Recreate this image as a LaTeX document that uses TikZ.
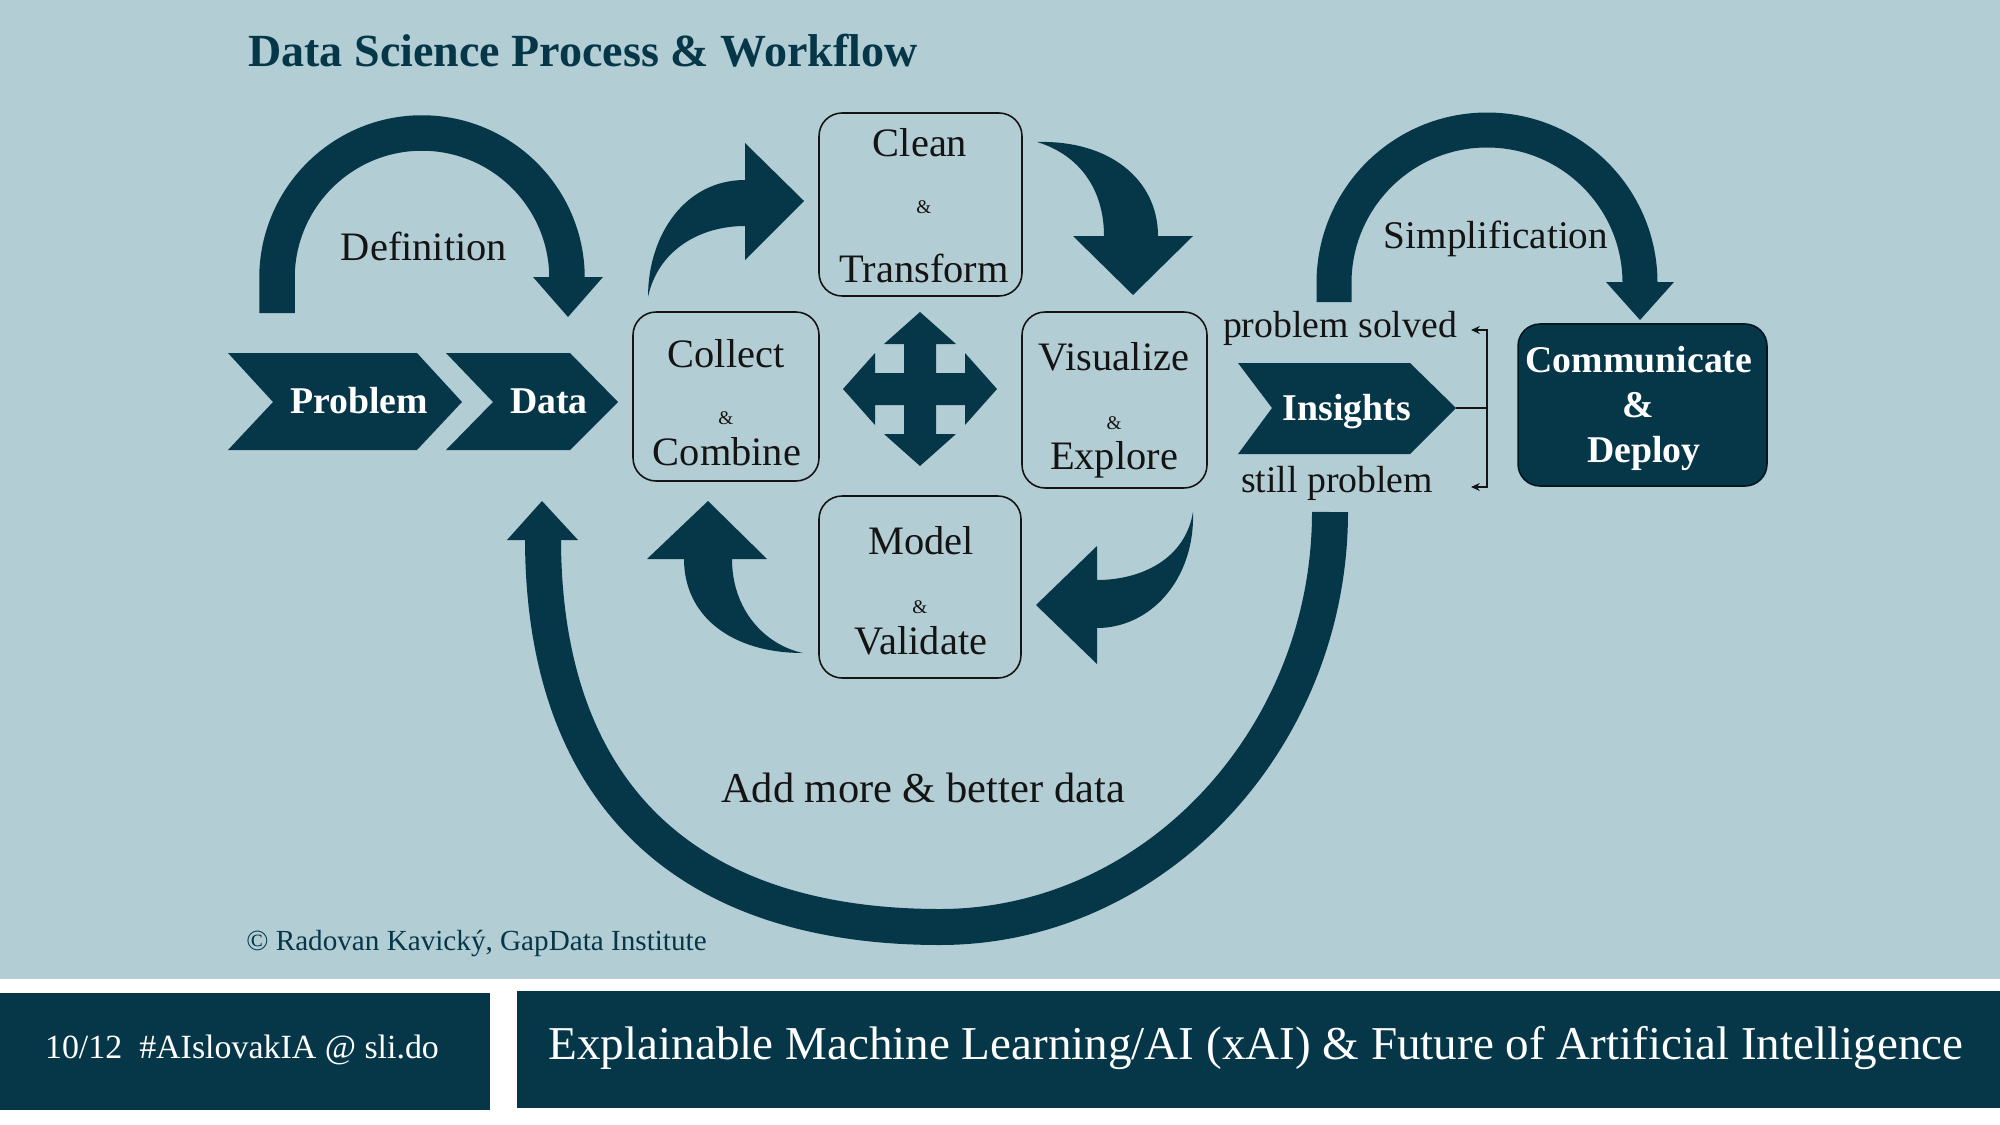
\documentclass[tikz,border=0pt]{standalone}
\usepackage{fontspec}
\setmainfont{Liberation Serif}
\usetikzlibrary{arrows.meta}
\definecolor{bgc}{HTML}{B3CDD4}
\definecolor{dk}{HTML}{053749}
\definecolor{txt}{HTML}{141414}
\newcommand\szT{\fontsize{26.2}{29}\selectfont}
\newcommand\szL{\fontsize{23}{26}\selectfont}
\newcommand\szM{\fontsize{21.5}{24}\selectfont}
\newcommand\szS{\fontsize{11}{13}\selectfont}
\newcommand\szW{\fontsize{21.5}{24}\selectfont}
\newcommand\szC{\fontsize{16.6}{19}\selectfont}
\newcommand\szFa{\fontsize{19.3}{22}\selectfont}
\newcommand\szFb{\fontsize{26.8}{30}\selectfont}
\tikzset{
  box/.style={draw=txt, line width=0.9pt, rounded corners=0.46cm, inner sep=0pt, outer sep=0pt},
  lbl/.style={anchor=base, inner sep=0pt, text=txt, font=\szL},
  mlbl/.style={anchor=base, inner sep=0pt, text=txt, font=\szM},
  amp/.style={anchor=base, inner sep=0pt, text=txt, font=\szS},
  wlbl/.style={anchor=base, inner sep=0pt, text=white, font=\bfseries\szW},
  thickarc/.style={draw=dk, line width=0.71cm},
  bracket/.style={draw=txt, line width=0.7pt},
  tipb/.style={-{Stealth[length=5pt,width=4.5pt]}}
}
\begin{document}
\begin{tikzpicture}[x=0.02cm,y=-0.02cm]
\useasboundingbox (0,0) rectangle (2000,1125);
\fill[white] (0,0) rectangle (2000,1125);
\fill[bgc] (0,0) rectangle (2000,979);

% title
\node[anchor=base west, inner sep=0pt, text=dk, font=\bfseries\szT] (title) at (248,67) {Data Science Process \& Workflow};

% Definition arc arrow
\draw[thickarc] (277,313) -- (277,278) .. controls (277,198) and (342,133) .. (422,133) .. controls (502,133) and (567,198) .. (567,278) -- (567,280);
\fill[dk] (533,277) -- (603,277) -- (568,317) -- cycle;
\node[lbl] (tdef) at (424,260) {Definition};

% chevrons
\fill[dk] (228,353) -- (417,353) -- (462,402) -- (417,450) -- (228,450) -- (273,402) -- cycle;
\fill[dk] (446,353) -- (570,353) -- (618,402) -- (570,450) -- (446,450) -- (493,402) -- cycle;
\node[wlbl] (tprob) at (359,413) {Problem};
\node[wlbl] (tdata) at (549,413) {Data};

% boxes
\node[box, minimum width=4.06cm, minimum height=3.66cm] (clean) at (920.5,204.5) {};
\node[box, minimum width=3.72cm, minimum height=3.38cm] (collect) at (726,396.5) {};
\node[box, minimum width=3.70cm, minimum height=3.52cm] (visual) at (1114.5,400) {};
\node[box, minimum width=4.04cm, minimum height=3.64cm] (model) at (920,587) {};

\node[lbl] (t1a) at (920,157) {Clean};
\node[amp] (t1b) at (924,214) {\&};
\node[lbl] (t1c) at (924,282) {Transform};

\node[lbl] (t2a) at (726,367) {Collect};
\node[amp] (t2b) at (726,424) {\&};
\node[lbl] (t2c) at (727,465) {Combine};

\node[lbl] (t3a) at (1114,370) {Visualize};
\node[amp] (t3b) at (1114,429) {\&};
\node[lbl] (t3c) at (1114,469) {Explore};

\node[lbl] (t4a) at (921,554) {Model};
\node[amp] (t4b) at (920,613) {\&};
\node[lbl] (t4c) at (921,654) {Validate};

% four-way arrow
\fill[dk] (920,312) -- (956,344) -- (936,344) -- (936,373) -- (965,373) -- (965,353) -- (997,389) -- (965,425) -- (965,405) -- (936,405) -- (936,434) -- (956,434) -- (920,466) -- (884,434) -- (904,434) -- (904,405) -- (875,405) -- (875,425) -- (843,389) -- (875,353) -- (875,373) -- (904,373) -- (904,344) -- (884,344) -- cycle;

% curved block arrows
\fill[dk] (648,297) .. controls (648,235) and (685,180) .. (745,180) -- (745,143) -- (804,201) -- (745,260) -- (745,226) .. controls (700,226) and (658,250) .. (648,297) -- cycle;
\fill[dk] (1037,142) .. controls (1110,140) and (1158,180) .. (1158,236) -- (1193,236) -- (1133,295) -- (1073,236) -- (1104,236) .. controls (1104,190) and (1080,155) .. (1037,142) -- cycle;
\fill[dk] (1193,512) .. controls (1195,580) and (1150,628) .. (1097,628) -- (1097,664) -- (1036,605) -- (1097,546) -- (1097,580) .. controls (1140,580) and (1185,560) .. (1193,512) -- cycle;
\fill[dk] (684,559) .. controls (684,615) and (730,653) .. (803,653) .. controls (765,645) and (732,610) .. (732,559) -- (767,559) -- (708,501) -- (647,559) -- cycle;

% big U arrow
\draw[dk, line width=0.72cm] (1330,512) .. controls (1330,739) and (1154,927) .. (940,927) .. controls (682,927) and (543,790) .. (543,538);
\fill[dk] (507,540) -- (578,540) -- (542,501) -- cycle;
\node[lbl, font=\fontsize{24.2}{27}\selectfont] (tadd) at (923,802) {Add more \& better data};

% insights
\fill[dk] (1238,363) -- (1410,363) -- (1456,408) -- (1410,454) -- (1238,454) -- (1272,408) -- cycle;
\node[wlbl] (tins) at (1347,420) {Insights};
\coordinate (instip) at (1456,408);
\coordinate (bj) at (1487,408);
\coordinate (bt) at (1487,330);
\coordinate (bb) at (1487,487);
\node[mlbl] (solved) at (1340,337) {problem solved};
\node[mlbl] (still) at (1337,492) {still problem};
\draw[bracket] (instip) -- (bj);
\draw[bracket,tipb] (bj) -- (bt) -- (1471,330);
\draw[bracket,tipb] (bj) -- (bb) -- (1471,487);

% Simplification arc
\draw[thickarc, line width=0.70cm] (1334,302) -- (1334,283) .. controls (1334,198.5) and (1402.5,130) .. (1487,130) .. controls (1571.5,130) and (1640,198.5) .. (1640,283) -- (1640,285);
\fill[dk] (1606,282) -- (1674,282) -- (1640,320) -- cycle;
\node[mlbl, font=\fontsize{22.3}{25}\selectfont] (tsimp) at (1496,248) {Simplification};

% communicate
\node[draw=black!60!dk, fill=dk, line width=0.9pt, rounded corners=0.44cm, minimum width=4.98cm, minimum height=3.24cm, inner sep=0pt] (comm) at (1642.5,405) {};
\node[wlbl] (tc1) at (1639,372) {Communicate};
\node[wlbl] (tc2) at (1638,417) {\&};
\node[wlbl] (tc3) at (1644,462) {Deploy};

% copyright
\node[anchor=base west, inner sep=0pt, text=dk, font=\szC] (copy) at (246,950) {© Radovan Kavický, GapData Institute};

% footer
\fill[dk] (0,993) rectangle (490,1110);
\fill[dk] (517,991) rectangle (2000,1108);
\node[anchor=base, inner sep=0pt, text=white, font=\szFa] (fl) at (242,1058) {10/12\ \ \#AIslovakIA @ sli.do};
\node[anchor=base, inner sep=0pt, text=white, font=\szFb] (fr) at (1256,1059) {Explainable Machine Learning/AI (xAI) \& Future of Artificial Intelligence};
\end{tikzpicture}
\end{document}
